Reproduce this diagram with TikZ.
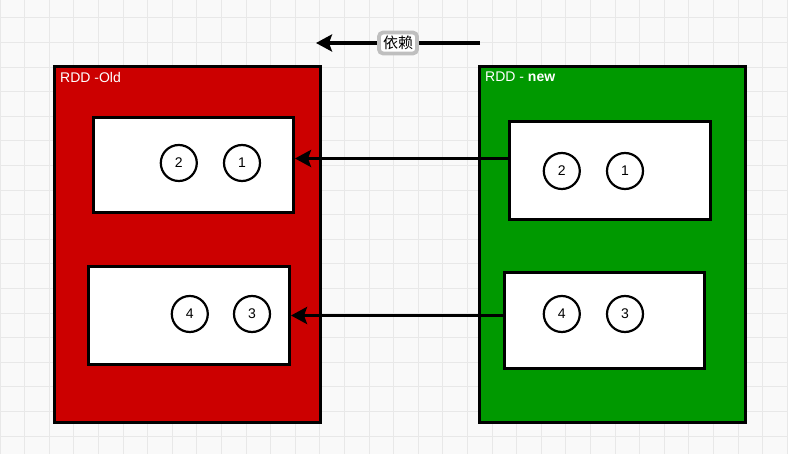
\documentclass[tikz,border=0pt]{standalone}
\usepackage{fontspec}
\setsansfont{Liberation Sans}
\newfontfamily\cjk{Noto Sans CJK SC}
\usetikzlibrary{positioning,arrows.meta}
\definecolor{oldred}{RGB}{204,0,0}
\definecolor{newgreen}{RGB}{0,153,0}
\definecolor{paper}{RGB}{249,249,249}
\definecolor{gridgray}{RGB}{232,232,232}
\tikzset{
  rdd/.style={draw=black,line width=3pt,minimum width=266pt,minimum height=356pt,inner sep=0pt,anchor=north west},
  part/.style={draw=black,fill=white,line width=3pt,inner sep=0pt,anchor=north west},
  blk/.style={circle,draw=black,fill=white,line width=2.2pt,minimum size=36pt,inner sep=0pt,font=\sffamily\fontsize{14}{14}\selectfont},
  rddlabel/.style={white,anchor=north west,xshift=7pt,yshift=-7pt,inner sep=0pt,font=\sffamily\fontsize{14}{14}\selectfont},
  dep/.style={line width=3.8pt,-{Stealth[length=16pt,width=17pt,inset=3pt]}},
  tag/.style={draw=black!25,fill=white,rounded corners=4pt,inner xsep=4pt,inner ysep=3.5pt,font=\cjk\fontsize{15}{15}\selectfont}
}
\begin{document}
\begin{tikzpicture}[x=1pt,y=-1pt]
  \useasboundingbox (0,0) rectangle (788,454);
  \fill[paper] (0,0) rectangle (788,454);
  \foreach \i in {0,...,32} \draw[gridgray,line width=1pt] (\i*24.6,0) -- (\i*24.6,454);
  \foreach \j in {0,...,18} \draw[gridgray,line width=1pt] (0,\j*24.6-6.6) -- (788,\j*24.6-6.6);

  \node [rdd,fill=oldred][label={[rddlabel]north west:RDD -Old}] (old) at (53,65) {};
  \node [rdd,fill=newgreen][label={[rddlabel]north west:RDD - \textbf{new}}] (new) at (478,65) {};

  \node [part,minimum width=200pt,minimum height=95pt] (oldA) at (92,116) {};
  \node [part,minimum width=201pt,minimum height=98pt] (oldB) at (87,265) {};
  \node [part,minimum width=201pt,minimum height=98pt] (newA) at (508,120) {};
  \node [part,minimum width=200pt,minimum height=96pt] (newB) at (503,271) {};

  \node [blk] (oldA1) at (242,163) {1};
  \node [blk,left=25pt of oldA1] (oldA2) {2};
  \node [blk] (oldB3) at (252,314) {3};
  \node [blk,left=24pt of oldB3] (oldB4) {4};
  \node [blk] (newA1) at (625,171) {1};
  \node [blk,left=25pt of newA1] (newA2) {2};
  \node [blk] (newB3) at (625,314) {3};
  \node [blk,left=25pt of newB3] (newB4) {4};

  \coordinate (srcA) at ([yshift=12pt]newA.west);
  \coordinate (srcB) at ([yshift=5pt]newB.west);
  \draw [dep] (srcA) -- (srcA -| oldA.east);
  \draw [dep] (srcB) -- (srcB -| oldB.east);

  \coordinate (from) at (480,43);
  \coordinate (to) at (316,43);
  \draw [dep] (from) -- node [tag] (deplabel) {依赖} (to);
\end{tikzpicture}
\end{document}
